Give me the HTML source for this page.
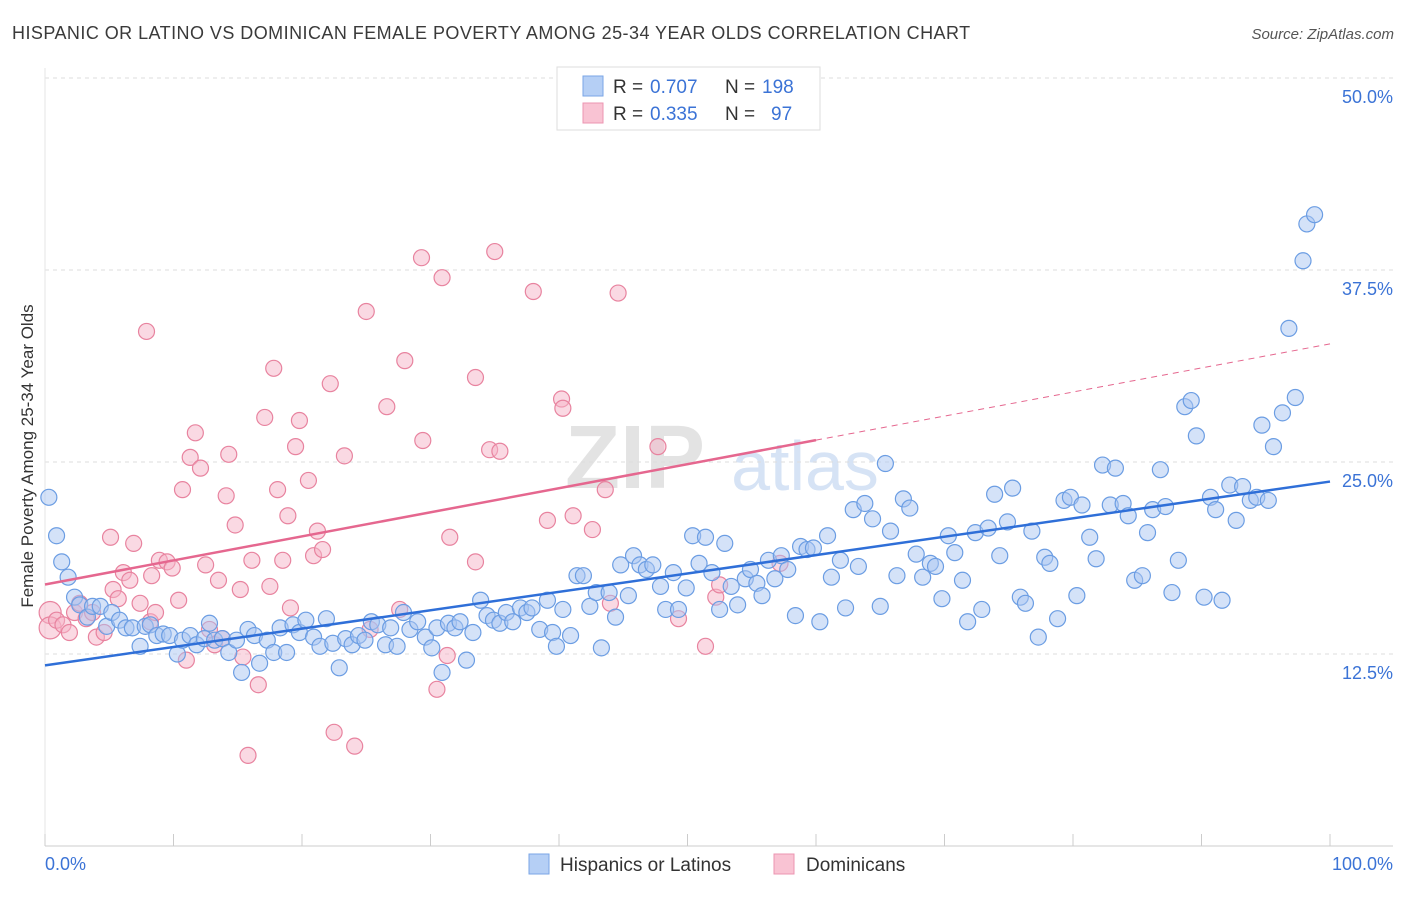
<!DOCTYPE html>
<html><head><meta charset="utf-8"><style>
body{margin:0;background:#fff;font-family:"Liberation Sans",sans-serif;}
svg text{font-family:"Liberation Sans",sans-serif;}
</style></head><body>
<svg id="chart" width="1406" height="892" xmlns="http://www.w3.org/2000/svg">
<text x="12" y="39" font-size="18" fill="#3a3a3a" letter-spacing="0.45">HISPANIC OR LATINO VS DOMINICAN FEMALE POVERTY AMONG 25-34 YEAR OLDS CORRELATION CHART</text>
<text x="1394" y="39" font-size="15" fill="#555" text-anchor="end" font-style="italic">Source: ZipAtlas.com</text>
<text transform="translate(33,456) rotate(-90)" font-size="17" fill="#333" text-anchor="middle">Female Poverty Among 25-34 Year Olds</text>
<g><text x="635" y="488" font-size="90" fill="#e3e3e3" font-family="Liberation Serif" text-anchor="middle" font-weight="bold">ZIP</text><text x="805" y="490" font-size="70" fill="#d6e3f5" text-anchor="middle">atlas</text></g>
<g id="grid"></g><g id="pinkpts"></g><g id="bluepts"></g><g id="trend"></g>
<g>
<rect x="557" y="67" width="263" height="63" fill="#fff" stroke="#ddd"/>
<rect x="583" y="76" width="20" height="20" fill="#b5cff5" stroke="#7aa6e6"/>
<rect x="583" y="103" width="20" height="20" fill="#f9c3d3" stroke="#ec95b2"/>
<text x="613" y="93" font-size="19" fill="#333">R =</text>
<text x="650" y="93" font-size="19" fill="#3b73d6">0.707</text>
<text x="725" y="93" font-size="19" fill="#333">N =</text>
<text x="762" y="93" font-size="19" fill="#3b73d6">198</text>
<text x="613" y="120" font-size="19" fill="#333">R =</text>
<text x="650" y="120" font-size="19" fill="#3b73d6">0.335</text>
<text x="725" y="120" font-size="19" fill="#333">N =</text>
<text x="771" y="120" font-size="19" fill="#3b73d6">97</text>
</g>
<g>
<rect x="529" y="854" width="20" height="20" fill="#b5cff5" stroke="#7aa6e6"/>
<text x="560" y="871" font-size="19" fill="#333">Hispanics or Latinos</text>
<rect x="774" y="854" width="20" height="20" fill="#f9c3d3" stroke="#ec95b2"/>
<text x="806" y="871" font-size="19" fill="#333">Dominicans</text>
</g>
</svg>
<script>
const yTicks=[12.5,25,37.5,50];
const xTickLabels=["0.0%","100.0%"];
const blueX=[0.3,0.9,1.3,1.8,2.3,2.7,3.3,3.7,4.3,4.8,5.2,5.8,6.3,6.8,7.4,7.8,8.2,8.7,9.2,9.7,10.3,10.7,11.3,11.8,12.4,12.8,13.2,13.8,14.3,14.9,15.3,15.8,16.3,16.7,17.3,17.8,18.3,18.8,19.3,19.8,20.3,20.9,21.4,21.9,22.4,22.9,23.4,23.9,24.4,24.9,25.4,25.9,26.5,26.9,27.4,27.9,28.4,29.0,29.6,30.1,30.5,30.9,31.4,31.9,32.3,32.8,33.3,33.9,34.4,34.9,35.4,35.9,36.4,37.0,37.5,37.9,38.5,39.1,39.5,39.8,40.3,40.9,41.4,41.9,42.4,42.9,43.3,43.9,44.4,44.8,45.4,45.8,46.3,46.8,47.3,47.9,48.3,48.9,49.3,49.9,50.4,50.9,51.4,51.9,52.5,52.9,53.4,53.9,54.5,54.9,55.4,55.8,56.3,56.8,57.3,57.8,58.4,58.8,59.3,59.8,60.3,60.9,61.2,61.9,62.3,62.9,63.3,63.8,64.4,65.0,65.4,65.8,66.3,66.8,67.3,67.8,68.3,68.9,69.3,69.8,70.3,70.8,71.4,71.8,72.4,72.9,73.4,73.9,74.3,74.9,75.3,75.9,76.3,76.8,77.3,77.8,78.2,78.8,79.3,79.8,80.3,80.7,81.3,81.8,82.3,82.9,83.3,83.9,84.3,84.8,85.4,85.8,86.2,86.8,87.2,87.7,88.2,88.7,89.2,89.6,90.2,90.7,91.1,91.6,92.2,92.7,93.2,93.8,94.3,94.7,95.2,95.6,96.3,96.8,97.3,97.9,98.2,98.8];
const blueY=[22.7,20.2,18.5,17.5,16.2,15.7,14.9,15.6,15.6,14.3,15.2,14.7,14.2,14.2,13.0,14.3,14.4,13.7,13.8,13.7,12.5,13.4,13.7,13.1,13.5,14.5,13.4,13.5,12.6,13.4,11.3,14.1,13.7,11.9,13.4,12.6,14.2,12.6,14.4,13.9,14.7,13.6,13.0,14.8,13.2,11.6,13.5,13.1,13.7,13.4,14.6,14.4,13.1,14.2,13.0,15.2,14.1,14.6,13.6,12.9,14.2,11.3,14.5,14.2,14.6,12.1,13.9,16.0,15.0,14.7,14.5,15.2,14.6,15.5,15.2,15.5,14.1,16.0,13.9,13.0,15.4,13.7,17.6,17.6,15.6,16.5,12.9,16.5,14.9,18.3,16.3,18.9,18.3,18.0,18.3,16.9,15.4,17.8,15.4,16.8,20.2,18.4,20.1,17.8,15.4,19.7,16.9,15.7,17.4,18.0,17.1,16.3,18.6,17.4,18.9,18.0,15.0,19.5,19.3,19.4,14.6,20.2,17.5,18.6,15.5,21.9,18.2,22.3,21.3,15.6,24.9,20.5,17.6,22.6,22.0,19.0,17.5,18.4,18.2,16.1,20.2,19.1,17.3,14.6,20.4,15.4,20.7,22.9,18.9,21.1,23.3,16.2,15.8,20.5,13.6,18.8,18.4,14.8,22.5,22.7,16.3,22.2,20.1,18.7,24.8,22.2,24.6,22.3,21.5,17.3,17.6,20.4,21.9,24.5,22.1,16.5,18.6,28.6,29.0,26.7,16.2,22.7,21.9,16.0,23.5,21.2,23.4,22.5,22.7,27.4,22.5,26.0,28.2,33.7,29.2,38.1,40.5,41.1];
const pinkX=[0.4,0.4,0.9,1.4,1.9,2.3,2.7,3.2,3.7,4.0,4.6,5.1,5.3,5.7,6.1,6.6,6.9,7.4,7.9,8.2,8.3,8.6,8.9,9.5,9.9,10.4,10.7,11.0,11.3,11.7,12.1,12.5,12.8,13.2,13.5,13.8,14.1,14.3,14.8,15.2,15.4,15.8,16.1,16.6,17.1,17.5,17.8,18.1,18.5,18.9,19.1,19.5,19.8,20.5,20.9,21.2,21.6,22.2,22.5,23.3,24.1,25.0,25.3,26.6,27.6,28.0,29.3,29.4,30.5,30.9,31.3,31.5,33.5,33.5,34.6,35.0,35.4,38.0,39.1,40.2,40.3,41.1,42.6,43.6,44.0,44.6,47.7,49.3,51.4,52.2,52.5,57.2];
const pinkY=[15.2,14.2,14.7,14.4,13.9,15.2,15.8,14.8,15.2,13.6,13.9,20.1,16.7,16.1,17.8,17.3,19.7,15.8,33.5,14.6,17.6,15.2,18.6,18.5,18.1,16.0,23.2,12.1,25.3,26.9,24.6,18.3,14.1,13.1,17.3,13.5,22.8,25.5,20.9,16.7,12.3,5.9,18.6,10.5,27.9,16.9,31.1,23.2,18.6,21.5,15.5,26.0,27.7,23.8,18.9,20.5,19.3,30.1,7.4,25.4,6.5,34.8,14.1,28.6,15.4,31.6,38.3,26.4,10.2,37.0,12.4,20.1,18.5,30.5,25.8,38.7,25.7,36.1,21.2,29.1,28.5,21.5,20.6,23.2,15.8,36.0,26.0,14.8,13.0,16.2,17.0,18.4];
const NS="http://www.w3.org/2000/svg";
const X0=45,X1=1330,Y0=846,YPX=15.36;
function sx(v){return X0+v/100*(X1-X0);}
function sy(v){return Y0-v*YPX;}
function mk(t,a){const e=document.createElementNS(NS,t);for(const k in a)e.setAttribute(k,a[k]);return e;}
const grid=document.getElementById('grid');
yTicks.forEach(t=>{
  const l=mk('line',{x1:45,x2:1393,y1:sy(t),y2:sy(t),stroke:'#ddd','stroke-dasharray':'4,4'});
  
  
  grid.appendChild(l);
  const tx=mk('text',{x:1393,y:sy(t)+25,'font-size':18,fill:'#3b73d6','text-anchor':'end'});
  tx.textContent=t.toFixed(1)+'%';
  
  
  grid.appendChild(tx);
});
const ax=mk('line',{x1:45,x2:1393,y1:846,y2:846,stroke:'#ccc'});


grid.appendChild(ax);
const ay=mk('line',{x1:45,x2:45,y1:68,y2:846,stroke:'#e5e5e5'});


grid.appendChild(ay);
for(let i=0;i<=10;i++){
  const t=mk('line',{x1:sx(i*10),x2:sx(i*10),y1:834,y2:846,stroke:'#ccc'});
  
  
  grid.appendChild(t);
}
[[0,'start',45],[1,'end',1393]].forEach(([i,a,x])=>{
  const tx=mk('text',{x:x,y:870,'font-size':18,fill:'#3b73d6','text-anchor':a});
  tx.textContent=xTickLabels[i];
  
  
  grid.appendChild(tx);
});
function pts(g,xs,ys,fill,stroke,name){
  const gg=document.getElementById(g);
  xs.forEach((x,i)=>{
    const c=mk('circle',{cx:sx(x),cy:sy(ys[i]),r:(i<2&&name==='dominican-point')?11:8,fill:fill,'fill-opacity':0.5,stroke:stroke,'stroke-width':1.2});
    
    
    gg.appendChild(c);
  });
}
pts('pinkpts',pinkX,pinkY,'#f5b3c8','#e8839f','dominican-point');
pts('bluepts',blueX,blueY,'#a9c6f2','#6b9de3','hispanic-point');
function reg(xs,ys){const n=xs.length;let mx=0,my=0;xs.forEach((x,i)=>{mx+=x;my+=ys[i];});mx/=n;my/=n;let sxy=0,sxx=0;xs.forEach((x,i)=>{sxy+=(x-mx)*(ys[i]-my);sxx+=(x-mx)*(x-mx);});const b=sxy/sxx;return [my-b*mx,b];}
const tr=document.getElementById('trend');
const [ba,bb]=reg(blueX,blueY);
let l=mk('line',{x1:sx(0),y1:sy(ba),x2:sx(100),y2:sy(ba+bb*100),stroke:'#2f6fd8','stroke-width':2.5});


tr.appendChild(l);
const [pa,pb]=reg(pinkX,pinkY);
l=mk('line',{x1:sx(0),y1:sy(pa),x2:sx(60),y2:sy(pa+pb*60),stroke:'#e5678f','stroke-width':2.5});


tr.appendChild(l);
l=mk('line',{x1:sx(60),y1:sy(pa+pb*60),x2:sx(100),y2:sy(pa+pb*100),stroke:'#e5678f','stroke-width':1,'stroke-dasharray':'6,5'});


tr.appendChild(l);
</script>
</body></html>
